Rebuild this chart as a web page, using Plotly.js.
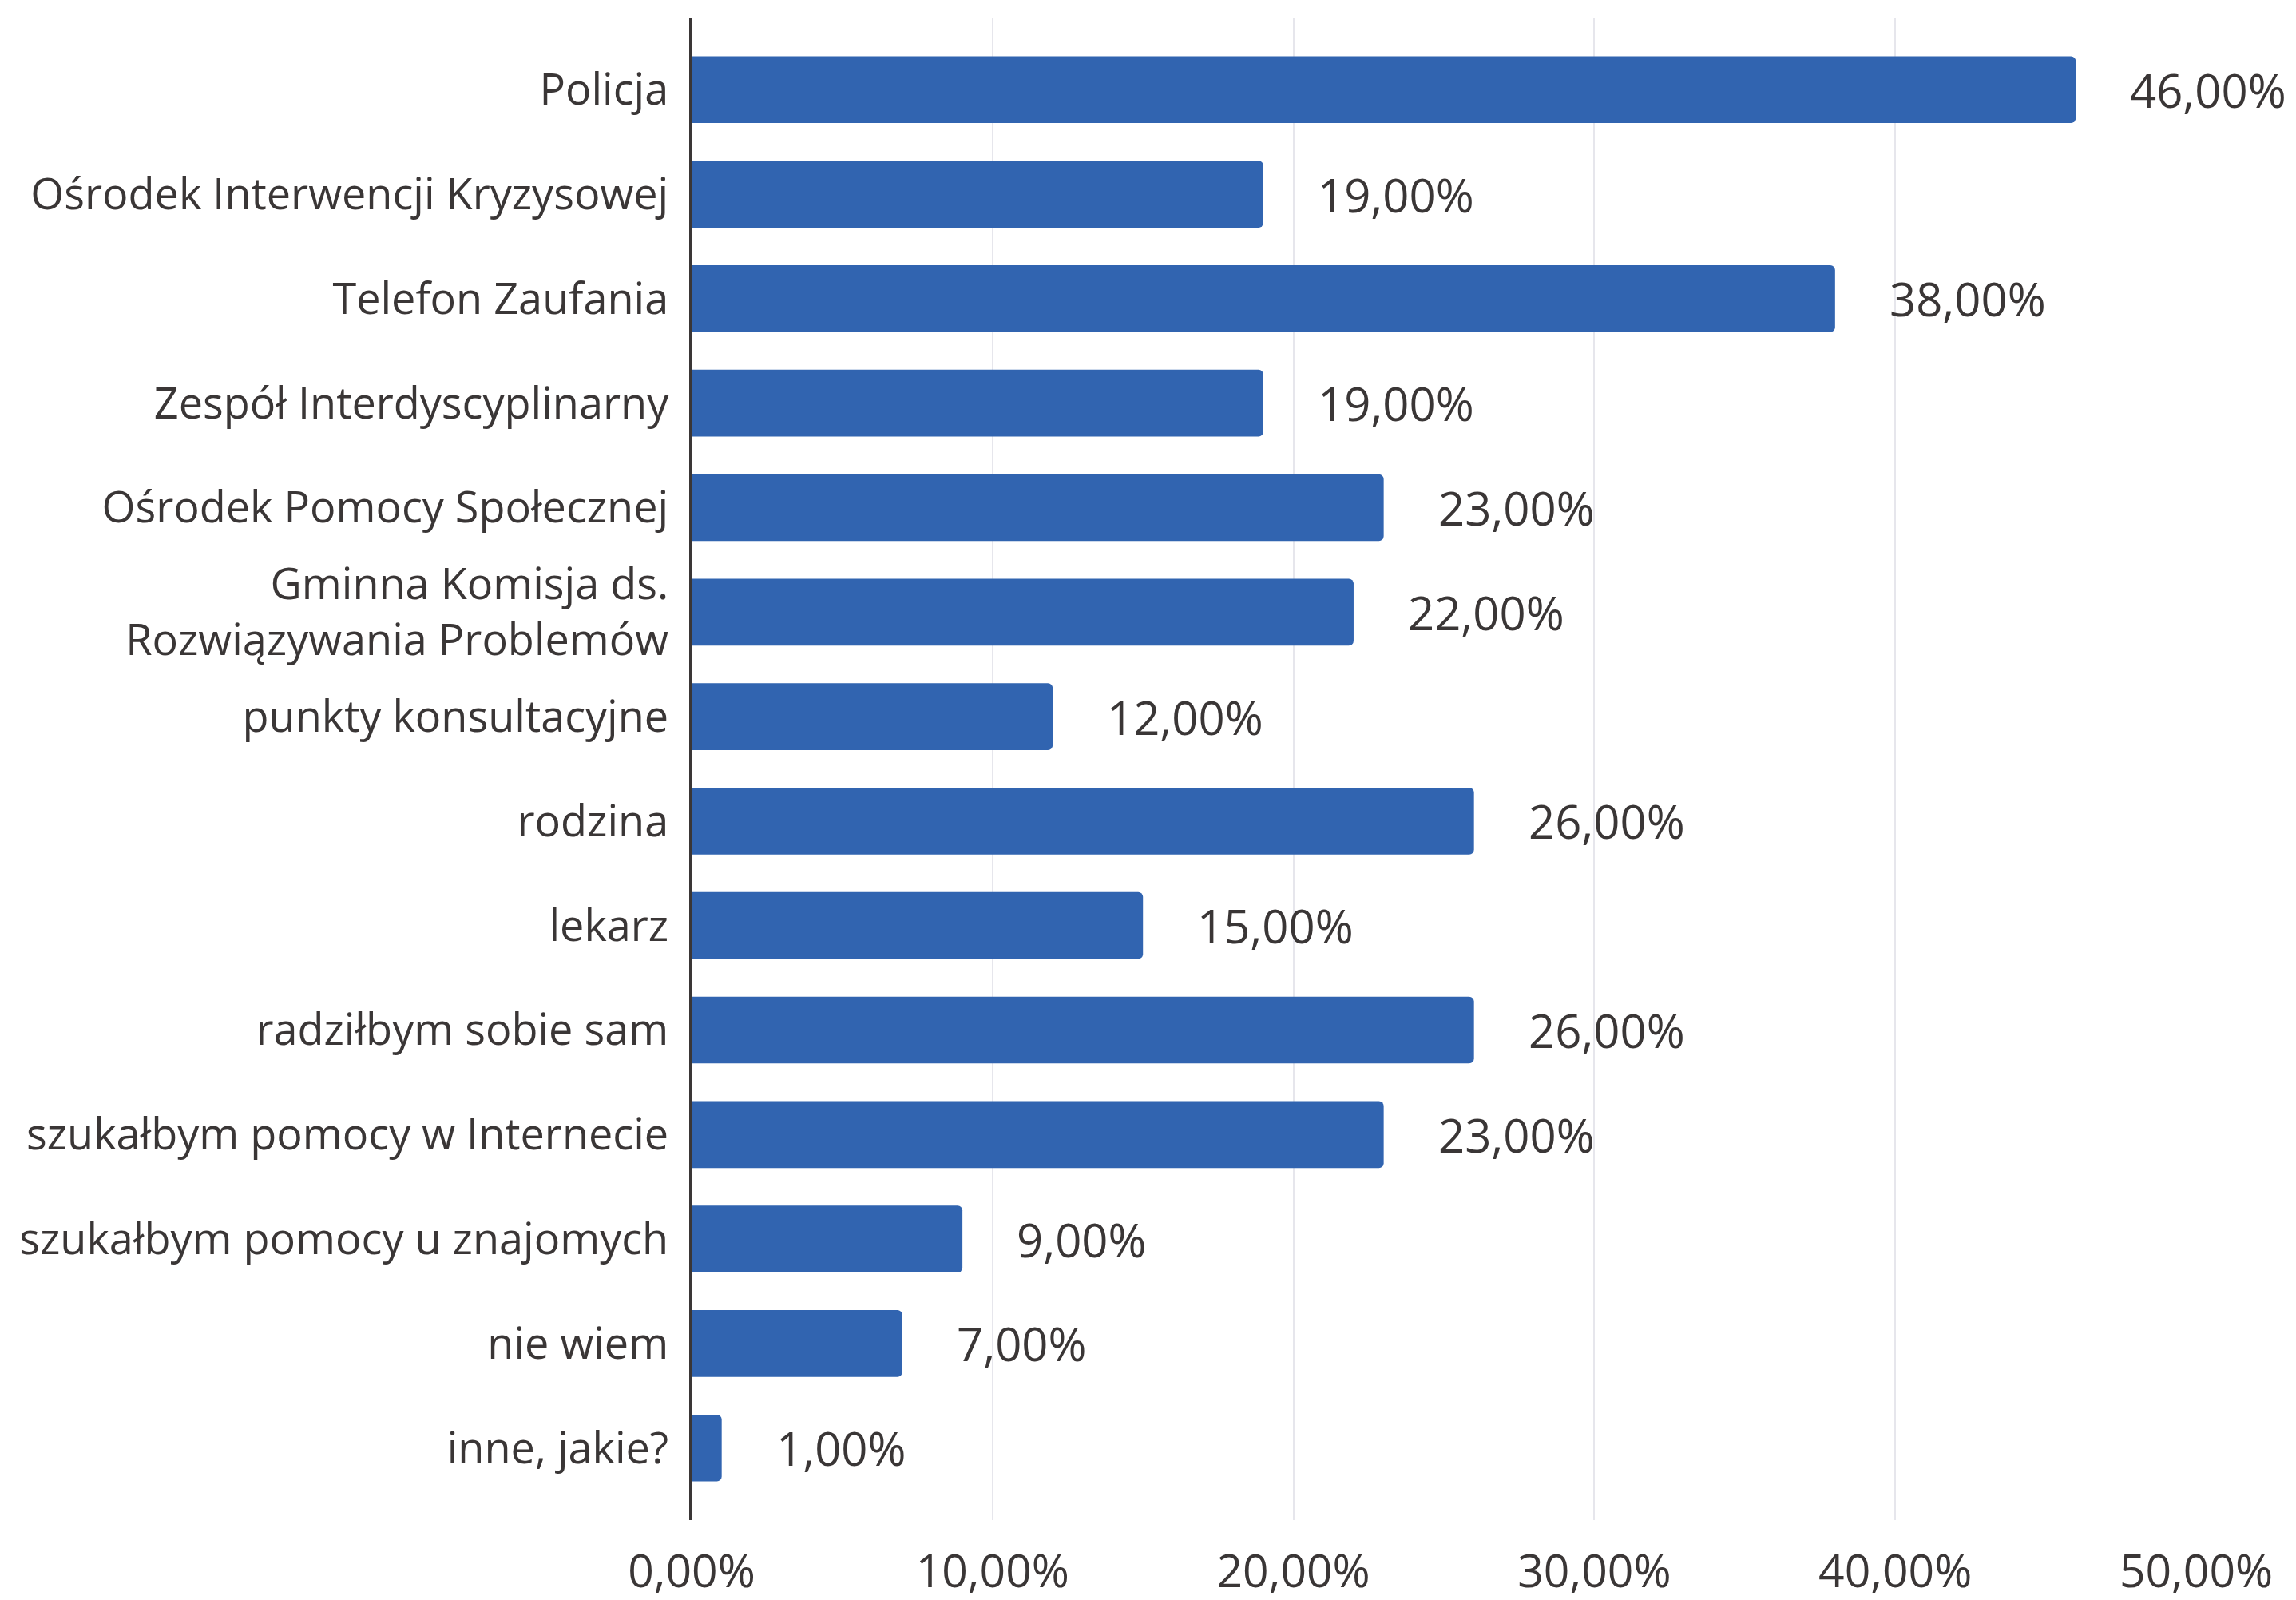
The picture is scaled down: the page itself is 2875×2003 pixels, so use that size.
<!DOCTYPE html>
<html>
<head>
<meta charset="utf-8">
<script src="https://cdn.plot.ly/plotly-3.0.1.min.js"></script>
<style>html,body{margin:0;padding:0;background:#fff;}#chart{width:2875px;height:2003px;}</style>
</head>
<body>
<div id="chart"></div>
<script>
const categories = [
  "Policja",
  "Ośrodek Interwencji Kryzysowej",
  "Telefon Zaufania",
  "Zespół Interdyscyplinarny",
  "Ośrodek Pomocy Społecznej",
  "Gminna Komisja ds.<br>Rozwiązywania Problemów",
  "punkty konsultacyjne",
  "rodzina",
  "lekarz",
  "radziłbym sobie sam",
  "szukałbym pomocy w Internecie",
  "szukałbym pomocy u znajomych",
  "nie wiem",
  "inne, jakie?"
];
const values = [46, 19, 38, 19, 23, 22, 12, 26, 15, 26, 23, 9, 7, 1];
const tickValues = [0, 10, 20, 30, 40, 50];
const tickLabels = ["0,00%", "10,00%", "20,00%", "30,00%", "40,00%", "50,00%"];

const fmt = v => v.toFixed(2).replace('.', ',') + '%';
const textColor = '#3a3636';
const fontFamily = '"Open Sans", "DejaVu Sans", sans-serif';

const trace = {
  type: 'bar',
  orientation: 'h',
  x: values,
  y: categories,
  marker: { color: '#3164b0', line: { width: 0 } },
  hoverinfo: 'skip'
};

const annotations = values.map((v, i) => ({
  x: v, y: categories[i], xref: 'x', yref: 'y',
  text: fmt(v), showarrow: false,
  xanchor: 'left', yanchor: 'middle', xshift: 66,
  font: { family: fontFamily, size: 58, color: textColor }
}));

const layout = {
  width: 2875, height: 2003,
  margin: { l: 866, r: 125, t: 22, b: 100, pad: 0 },
  paper_bgcolor: '#ffffff',
  plot_bgcolor: '#ffffff',
  showlegend: false,
  bargap: 0.36,
  barcornerradius: 6,
  font: { family: fontFamily, size: 54, color: textColor },
  xaxis: {
    range: [0, 50],
    tickvals: tickValues,
    ticktext: tickLabels,
    showgrid: true,
    gridcolor: '#e6e6ec',
    gridwidth: 2,
    zeroline: false,
    showline: false,
    ticks: '',
    ticklabelstandoff: 26,
    tickfont: { family: fontFamily, size: 57, color: textColor },
    fixedrange: true
  },
  yaxis: {
    type: 'category',
    range: [13.69, -0.69],
    showgrid: false,
    zeroline: false,
    showline: true,
    linecolor: '#3a3636',
    linewidth: 3,
    ticks: '',
    ticklabelstandoff: 15,
    tickfont: { family: fontFamily, size: 54, color: textColor },
    fixedrange: true
  },
  annotations: annotations
};

Plotly.newPlot('chart', [trace], layout, { staticPlot: true, displayModeBar: false });
</script>
</body>
</html>
